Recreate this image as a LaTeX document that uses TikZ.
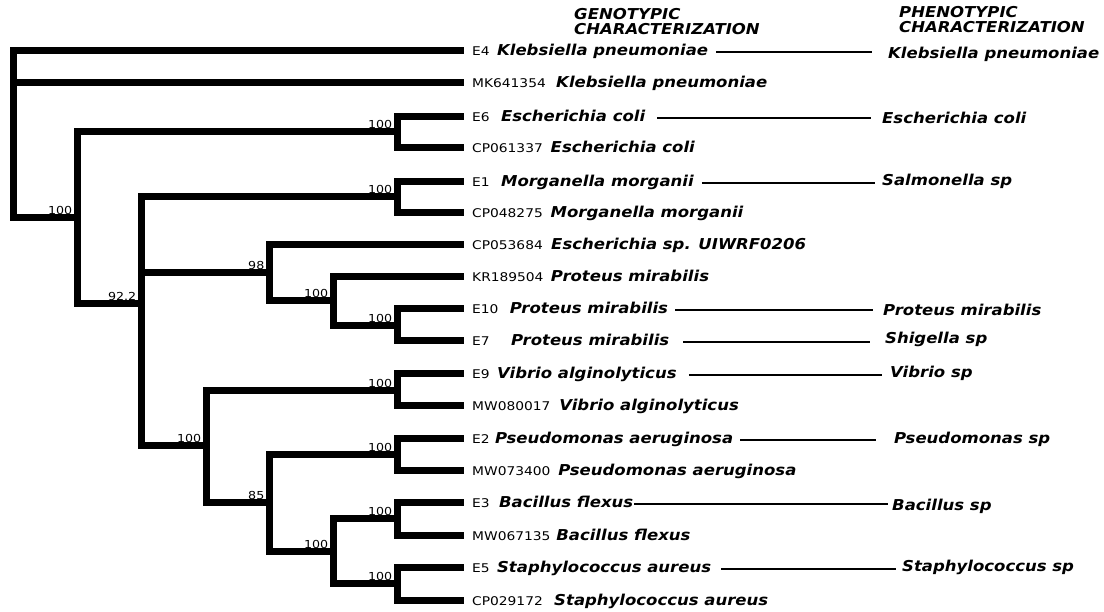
\documentclass[tikz,border=0pt]{standalone}
\usepackage{fontspec}
\setmainfont{DejaVu Sans}
\newfontfamily\idfont[FakeStretch=1.15]{DejaVu Sans}
\newfontfamily\spfont[FakeStretch=1.1]{DejaVu Sans}
\usetikzlibrary{positioning, calc}
\tikzset{
  hbr/.style={line width=7pt},
  vbr/.style={line width=7pt, line cap=rect},
  leafid/.style={font=\idfont\fontsize{12}{12}\selectfont, anchor=base west, inner sep=0pt},
  spname/.style={font=\spfont\fontsize{15}{15}\selectfont\bfseries\itshape, anchor=base west, inner sep=0pt},
  boot/.style={font=\idfont\fontsize{11}{11}\selectfont, anchor=base east, inner sep=0pt},
  link/.style={line width=1.4pt},
  colhead/.style={font=\spfont\fontsize{15}{15}\selectfont\bfseries\itshape, align=left, anchor=north west, inner sep=0pt},
}

\begin{document}
\begin{tikzpicture}[x=1pt, y=-1pt]
\useasboundingbox (0,0) rectangle (1104,611);

% internal nodes of the tree
\coordinate (nR) at (13,133);
\coordinate (nA) at (77,217);
\coordinate (nE6) at (397,131);
\coordinate (nB) at (141,303);
\coordinate (nE1) at (397,196);
\coordinate (n98) at (269,272);
\coordinate (nPm) at (333,300);
\coordinate (nE10) at (397,325);
\coordinate (nC) at (206,445);
\coordinate (nVa) at (397,390);
\coordinate (n85) at (269,502);
\coordinate (nPa) at (397,454);
\coordinate (nD) at (333,551);
\coordinate (nBf) at (397,518);
\coordinate (nSa) at (397,583);

% leaf tips
\coordinate (t0) at (464,50);
\coordinate (t1) at (464,82);
\coordinate (t2) at (464,116);
\coordinate (t3) at (464,147);
\coordinate (t4) at (464,181);
\coordinate (t5) at (464,212);
\coordinate (t6) at (464,244);
\coordinate (t7) at (464,276);
\coordinate (t8) at (464,308);
\coordinate (t9) at (464,340);
\coordinate (t10) at (464,373);
\coordinate (t11) at (464,405);
\coordinate (t12) at (464,438);
\coordinate (t13) at (464,470);
\coordinate (t14) at (464,502);
\coordinate (t15) at (464,535);
\coordinate (t16) at (464,567);
\coordinate (t17) at (464,600);

% support values
\node[boot, xshift=-4.5pt, yshift=3pt] (sA) at (nA) {100};
\node[boot, xshift=-4.5pt, yshift=3pt] (sE6) at (nE6) {100};
\node[boot, xshift=-4.5pt, yshift=3pt] (sB) at (nB) {92.2};
\node[boot, xshift=-4.5pt, yshift=3pt] (sE1) at (nE1) {100};
\node[boot, xshift=-4.5pt, yshift=3pt] (s98) at (n98) {98};
\node[boot, xshift=-4.5pt, yshift=3pt] (sPm) at (nPm) {100};
\node[boot, xshift=-4.5pt, yshift=3pt] (sE10) at (nE10) {100};
\node[boot, xshift=-4.5pt, yshift=3pt] (sC) at (nC) {100};
\node[boot, xshift=-4.5pt, yshift=3pt] (sVa) at (nVa) {100};
\node[boot, xshift=-4.5pt, yshift=3pt] (s85) at (n85) {85};
\node[boot, xshift=-4.5pt, yshift=3pt] (sPa) at (nPa) {100};
\node[boot, xshift=-4.5pt, yshift=3pt] (sD) at (nD) {100};
\node[boot, xshift=-4.5pt, yshift=3pt] (sBf) at (nBf) {100};
\node[boot, xshift=-4.5pt, yshift=3pt] (sSa) at (nSa) {100};

% branches
\draw[vbr] (nR |- t0) -- (nR |- nA);
\draw[hbr] (nR |- t0) -- (t0) (nR |- t1) -- (t1) (nR |- nA) -- (nA);
\draw[vbr] (nA |- nE6) -- (nA |- nB);
\draw[hbr] (nA |- nE6) -- (nE6) (nA |- nB) -- (nB);
\draw[vbr] (nE6 |- t2) -- (nE6 |- t3);
\draw[hbr] (nE6 |- t2) -- (t2) (nE6 |- t3) -- (t3);
\draw[vbr] (nB |- nE1) -- (nB |- nC);
\draw[hbr] (nB |- nE1) -- (nE1) (nB |- n98) -- (n98) (nB |- nC) -- (nC);
\draw[vbr] (nE1 |- t4) -- (nE1 |- t5);
\draw[hbr] (nE1 |- t4) -- (t4) (nE1 |- t5) -- (t5);
\draw[vbr] (n98 |- t6) -- (n98 |- nPm);
\draw[hbr] (n98 |- t6) -- (t6) (n98 |- nPm) -- (nPm);
\draw[vbr] (nPm |- t7) -- (nPm |- nE10);
\draw[hbr] (nPm |- t7) -- (t7) (nPm |- nE10) -- (nE10);
\draw[vbr] (nE10 |- t8) -- (nE10 |- t9);
\draw[hbr] (nE10 |- t8) -- (t8) (nE10 |- t9) -- (t9);
\draw[vbr] (nC |- nVa) -- (nC |- n85);
\draw[hbr] (nC |- nVa) -- (nVa) (nC |- n85) -- (n85);
\draw[vbr] (nVa |- t10) -- (nVa |- t11);
\draw[hbr] (nVa |- t10) -- (t10) (nVa |- t11) -- (t11);
\draw[vbr] (n85 |- nPa) -- (n85 |- nD);
\draw[hbr] (n85 |- nPa) -- (nPa) (n85 |- nD) -- (nD);
\draw[vbr] (nPa |- t12) -- (nPa |- t13);
\draw[hbr] (nPa |- t12) -- (t12) (nPa |- t13) -- (t13);
\draw[vbr] (nD |- nBf) -- (nD |- nSa);
\draw[hbr] (nD |- nBf) -- (nBf) (nD |- nSa) -- (nSa);
\draw[vbr] (nBf |- t14) -- (nBf |- t15);
\draw[hbr] (nBf |- t14) -- (t14) (nBf |- t15) -- (t15);
\draw[vbr] (nSa |- t16) -- (nSa |- t17);
\draw[hbr] (nSa |- t16) -- (t16) (nSa |- t17) -- (t17);

% leaf labels
\node[leafid, xshift=8pt, yshift=-5pt] (c0) at (t0) {E4};
\node[spname, base right=7pt of c0] (g0) {Klebsiella pneumoniae};
\node[leafid, xshift=8pt, yshift=-5pt] (c1) at (t1) {MK641354};
\node[spname, base right=10pt of c1] (g1) {Klebsiella pneumoniae};
\node[leafid, xshift=8pt, yshift=-5pt] (c2) at (t2) {E6};
\node[spname, base right=11pt of c2] (g2) {Escherichia coli};
\node[leafid, xshift=8pt, yshift=-5pt] (c3) at (t3) {CP061337};
\node[spname, base right=7.5pt of c3] (g3) {Escherichia coli};
\node[leafid, xshift=8pt, yshift=-5pt] (c4) at (t4) {E1};
\node[spname, base right=11pt of c4] (g4) {Morganella morganii};
\node[leafid, xshift=8pt, yshift=-5pt] (c5) at (t5) {CP048275};
\node[spname, base right=7.5pt of c5] (g5) {Morganella morganii};
\node[leafid, xshift=8pt, yshift=-5pt] (c6) at (t6) {CP053684};
\node[spname, base right=8pt of c6] (g6) {Escherichia sp. UIWRF0206};
\node[leafid, xshift=8pt, yshift=-5pt] (c7) at (t7) {KR189504};
\node[spname, base right=7pt of c7] (g7) {Proteus mirabilis};
\node[leafid, xshift=8pt, yshift=-5pt] (c8) at (t8) {E10};
\node[spname, base right=11pt of c8] (g8) {Proteus mirabilis};
\node[leafid, xshift=8pt, yshift=-5pt] (c9) at (t9) {E7};
\node[spname, base right=21pt of c9] (g9) {Proteus mirabilis};
\node[leafid, xshift=8pt, yshift=-5pt] (c10) at (t10) {E9};
\node[spname, base right=7pt of c10] (g10) {Vibrio alginolyticus};
\node[leafid, xshift=8pt, yshift=-5pt] (c11) at (t11) {MW080017};
\node[spname, base right=8.5pt of c11] (g11) {Vibrio alginolyticus};
\node[leafid, xshift=8pt, yshift=-5pt] (c12) at (t12) {E2};
\node[spname, base right=5pt of c12] (g12) {Pseudomonas aeruginosa};
\node[leafid, xshift=8pt, yshift=-5pt] (c13) at (t13) {MW073400};
\node[spname, base right=7.5pt of c13] (g13) {Pseudomonas aeruginosa};
\node[leafid, xshift=8pt, yshift=-5pt] (c14) at (t14) {E3};
\node[spname, base right=9pt of c14] (g14) {Bacillus flexus};
\node[leafid, xshift=8pt, yshift=-5pt] (c15) at (t15) {MW067135};
\node[spname, base right=5.5pt of c15] (g15) {Bacillus flexus};
\node[leafid, xshift=8pt, yshift=-5pt] (c16) at (t16) {E5};
\node[spname, base right=7pt of c16] (g16) {Staphylococcus aureus};
\node[leafid, xshift=8pt, yshift=-5pt] (c17) at (t17) {CP029172};
\node[spname, base right=11pt of c17] (g17) {Staphylococcus aureus};

% column headings
\node[colhead] (hG) at (574,8) {GENOTYPIC\\CHARACTERIZATION};
\node[colhead] (hP) at (899,6) {PHENOTYPIC\\CHARACTERIZATION};

% phenotypic identification
\node[spname] (p0) at (888,58.5) {Klebsiella pneumoniae};
\node[spname] (p2) at (882,123.5) {Escherichia coli};
\node[spname] (p4) at (882,185.5) {Salmonella sp};
\node[spname] (p8) at (883,315.5) {Proteus mirabilis};
\node[spname] (p9) at (885,343.5) {Shigella sp};
\node[spname] (p10) at (890,377.5) {Vibrio sp};
\node[spname] (p12) at (894,443.5) {Pseudomonas sp};
\node[spname] (p14) at (892,510.5) {Bacillus sp};
\node[spname] (p16) at (902,571.5) {Staphylococcus sp};

% links genotype -> phenotype
\coordinate[yshift=3pt] (k0) at (g0.base east);
\coordinate[yshift=3pt] (k2) at (g2.base east);
\coordinate[yshift=3pt] (k4) at (g4.base east);
\coordinate[yshift=3pt] (k8) at (g8.base east);
\coordinate[yshift=3pt] (k9) at (g9.base east);
\coordinate[yshift=3pt] (k10) at (g10.base east);
\coordinate[yshift=3pt] (k12) at (g12.base east);
\coordinate[yshift=3pt] (k14) at (g14.base east);
\coordinate[yshift=3pt] (k16) at (g16.base east);
\draw[link, shorten <=8pt, shorten >=16pt] (k0) -- (k0 -| p0.west);
\draw[link, shorten <=12pt, shorten >=11pt] (k2) -- (k2 -| p2.west);
\draw[link, shorten <=8pt, shorten >=7pt] (k4) -- (k4 -| p4.west);
\draw[link, shorten <=7pt, shorten >=10pt] (k8) -- (k8 -| p8.west);
\draw[link, shorten <=14pt, shorten >=15pt] (k9) -- (k9 -| p9.west);
\draw[link, shorten <=12pt, shorten >=8pt] (k10) -- (k10 -| p10.west);
\draw[link, shorten <=7pt, shorten >=18pt] (k12) -- (k12 -| p12.west);
\draw[link, shorten <=1pt, shorten >=4pt] (k14) -- (k14 -| p14.west);
\draw[link, shorten <=10pt, shorten >=6pt] (k16) -- (k16 -| p16.west);

\end{tikzpicture}
\end{document}
